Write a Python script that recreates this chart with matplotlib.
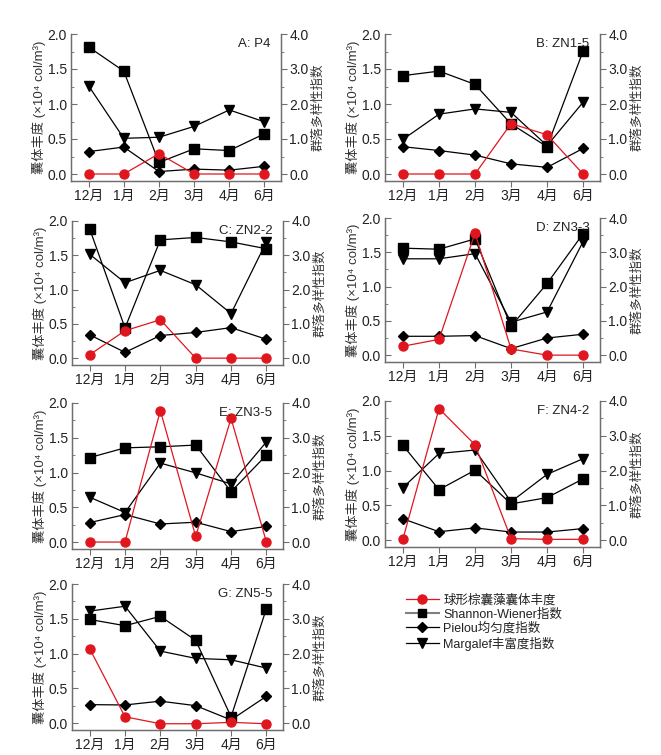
import matplotlib
matplotlib.use('Agg')
import matplotlib.pyplot as plt
from matplotlib.lines import Line2D
from matplotlib.ticker import MultipleLocator

plt.rcParams['font.family'] = ['Liberation Sans', 'Noto Sans CJK SC', 'DejaVu Sans']

months = ['12月', '1月', '2月', '3月', '4月', '6月']
stations = ['A: P4', 'B: ZN1-5', 'C: ZN2-2', 'D: ZN3-3', 'E: ZN3-5', 'F: ZN4-2', 'G: ZN5-5']

# 球形棕囊藻囊体丰度 (x10^4 col/m3), left axis
cyst = [
    [0.0, 0.0, 0.29, 0.0, 0.0, 0.0],
    [0.0, 0.0, 0.0, 0.72, 0.56, 0.0],
    [0.05, 0.40, 0.56, 0.0, 0.0, 0.0],
    [0.13, 0.23, 1.78, 0.09, 0.0, 0.0],
    [0.0, 0.0, 1.89, 0.08, 1.78, 0.0],
    [0.02, 1.89, 1.37, 0.02, 0.01, 0.01],
    [1.07, 0.09, -0.01, -0.01, 0.01, -0.01],
]
# Shannon-Wiener, right axis
shannon = [
    [3.63, 2.94, 0.33, 0.72, 0.67, 1.15],
    [2.81, 2.94, 2.56, 1.43, 0.78, 3.51],
    [3.77, 0.88, 3.45, 3.52, 3.39, 3.19],
    [3.12, 3.09, 3.39, 0.84, 2.09, 3.54],
    [2.43, 2.71, 2.74, 2.79, 1.45, 2.50],
    [2.72, 1.45, 2.01, 1.04, 1.22, 1.76],
    [2.98, 2.80, 3.07, 2.38, 0.18, 3.29],
]
# Pielou
pielou = [
    [0.64, 0.77, 0.07, 0.14, 0.11, 0.22],
    [0.78, 0.67, 0.54, 0.29, 0.19, 0.73],
    [0.68, 0.17, 0.66, 0.75, 0.89, 0.55],
    [0.55, 0.55, 0.57, 0.19, 0.50, 0.61],
    [0.56, 0.79, 0.52, 0.57, 0.30, 0.45],
    [0.61, 0.24, 0.35, 0.23, 0.23, 0.33],
    [0.53, 0.52, 0.63, 0.50, 0.09, 0.77],
]
# Margalef
margalef = [
    [2.52, 1.02, 1.05, 1.36, 1.83, 1.49],
    [0.99, 1.71, 1.86, 1.76, 0.81, 2.05],
    [3.03, 2.20, 2.56, 2.14, 1.30, 3.39],
    [2.81, 2.81, 2.96, 0.96, 1.26, 3.31],
    [1.29, 0.85, 2.27, 1.99, 1.67, 2.88],
    [1.51, 2.49, 2.59, 1.10, 1.89, 2.34],
    [3.22, 3.36, 2.07, 1.86, 1.82, 1.58],
]

W, H = 661, 755
# axes boxes in pixels: left, top, right, bottom
boxes = [
    (71, 34, 281, 181), (385, 34, 600, 181),
    (72, 221, 283, 365), (385, 218, 600, 362),
    (72, 403, 283, 549), (385, 401, 600, 547),
    (72, 584, 283, 730),
]

red = '#e0161f'
spine_c = '#6e6e6e'
txt_c = '#222222'

fig = plt.figure(figsize=(W / 100, H / 100), dpi=100)
x = list(range(len(months)))

for i, (l, t, r, b) in enumerate(boxes):
    ax = fig.add_axes([l / W, 1 - b / H, (r - l) / W, (b - t) / H])
    ax2 = ax.twinx()
    ax.set_zorder(ax2.get_zorder() + 1)
    ax.patch.set_visible(False)

    ax2.plot(x, shannon[i], color='black', lw=0.9, marker='s', ms=6.5)
    ax2.plot(x, pielou[i], color='black', lw=0.9, marker='D', ms=5.5)
    ax2.plot(x, margalef[i], color='black', lw=0.9, marker='v', ms=7.5)
    ax.plot(x, cyst[i], color=red, lw=0.9, marker='o', ms=6.5)

    ax.set_xlim(-0.5, 5.47)
    ax.set_ylim(-0.1, 2.0)
    ax2.set_ylim(-0.2, 4.0)
    ax.set_xticks(x)
    ax.set_xticklabels(months)
    ax.yaxis.set_major_locator(MultipleLocator(0.5))
    ax.yaxis.set_minor_locator(MultipleLocator(0.25))
    ax2.yaxis.set_major_locator(MultipleLocator(1.0))
    ax2.yaxis.set_minor_locator(MultipleLocator(0.5))
    ax.yaxis.set_major_formatter(matplotlib.ticker.FormatStrFormatter('%.1f'))
    ax2.yaxis.set_major_formatter(matplotlib.ticker.FormatStrFormatter('%.1f'))

    for a in (ax, ax2):
        a.spines['top'].set_visible(False)
        for s in a.spines.values():
            s.set_color(spine_c)
            s.set_linewidth(0.9)
    ax.tick_params(axis='y', which='major', direction='in', length=4, color=spine_c,
                   labelsize=10, labelcolor=txt_c, pad=3)
    ax.tick_params(axis='y', which='minor', direction='in', length=2.5, color=spine_c)
    ax.tick_params(axis='x', direction='out', length=4, color=spine_c,
                   labelsize=10, labelcolor=txt_c, pad=2)
    ax2.tick_params(axis='y', which='major', direction='out', length=4, color=spine_c,
                    labelsize=10, labelcolor=txt_c, pad=2)
    ax2.tick_params(axis='y', which='minor', direction='out', length=2.5, color=spine_c)

    ax.set_ylabel('囊体丰度 (×10⁴ col/m³)', fontsize=9.5, color='#333333', labelpad=1)
    ax2.set_ylabel('群落多样性指数', fontsize=9, color='#333333', labelpad=3)

    ax.text(0.95, 0.93, stations[i], transform=ax.transAxes, ha='right', va='center',
            fontsize=9.5, color=txt_c)

handles = [
    Line2D([], [], color=red, lw=0.9, marker='o', ms=6.5),
    Line2D([], [], color='#808080', lw=1.5, marker='s', ms=5.5,
           markerfacecolor='black', markeredgecolor='black'),
    Line2D([], [], color='black', lw=0.9, marker='D', ms=5.5),
    Line2D([], [], color='black', lw=0.9, marker='v', ms=6.5),
]
labels = ['球形棕囊藻囊体丰度', 'Shannon-Wiener指数', 'Pielou均匀度指数', 'Margalef丰富度指数']
fig.legend(handles, labels, loc='upper left', bbox_to_anchor=(406 / W, 1 - 594 / H),
           frameon=False, fontsize=9, handlelength=2.6, handletextpad=0.4,
           labelspacing=0.15, borderpad=0, borderaxespad=0, labelcolor=txt_c)

fig.savefig('out.png', dpi=100)
